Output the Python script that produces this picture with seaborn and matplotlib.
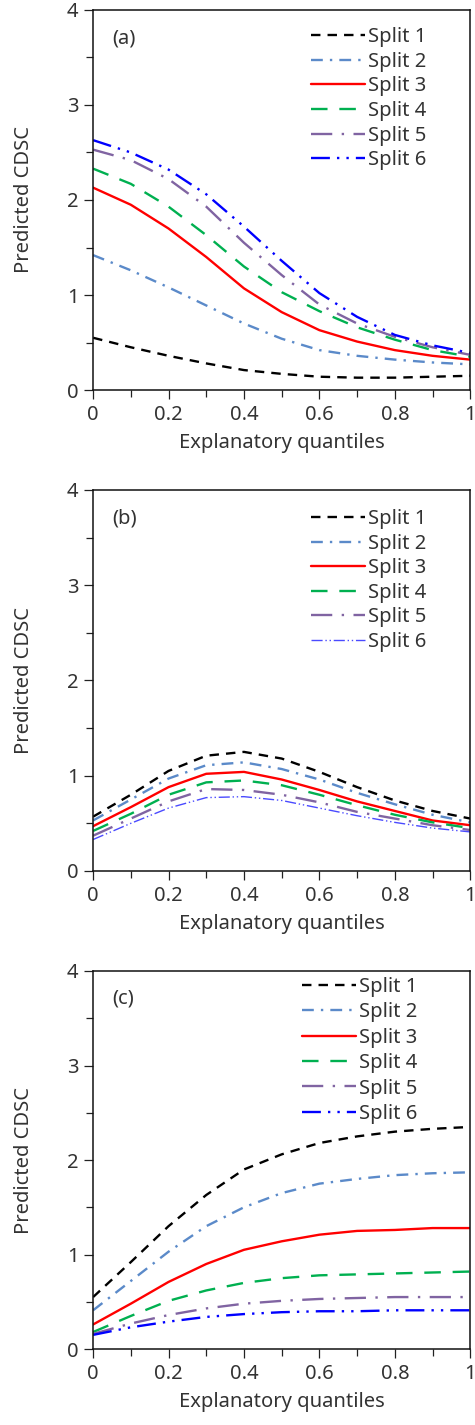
import numpy as np
import pandas as pd
import matplotlib
matplotlib.use("Agg")
import matplotlib.pyplot as plt
from matplotlib.ticker import MultipleLocator, FuncFormatter
import seaborn as sns

sns.set_theme(style="ticks")
plt.rcParams['font.family'] = ['Noto Sans', 'DejaVu Sans']

x_q = [0.0, 0.1, 0.2, 0.3, 0.4, 0.5, 0.6, 0.7, 0.8, 0.9, 1.0]
split_names = ["Split 1", "Split 2", "Split 3", "Split 4", "Split 5", "Split 6"]
panel_labels = ["(a)", "(b)", "(c)"]

a_s1 = [0.55, 0.45, 0.36, 0.28, 0.21, 0.17, 0.14, 0.13, 0.13, 0.14, 0.15]
a_s2 = [1.42, 1.26, 1.08, 0.89, 0.70, 0.54, 0.42, 0.36, 0.32, 0.29, 0.27]
a_s3 = [2.13, 1.95, 1.70, 1.40, 1.07, 0.82, 0.63, 0.51, 0.42, 0.36, 0.32]
a_s4 = [2.33, 2.17, 1.93, 1.63, 1.30, 1.03, 0.83, 0.66, 0.53, 0.42, 0.35]
a_s5 = [2.53, 2.42, 2.22, 1.93, 1.55, 1.21, 0.90, 0.70, 0.56, 0.45, 0.37]
a_s6 = [2.63, 2.50, 2.32, 2.06, 1.72, 1.36, 1.02, 0.77, 0.58, 0.47, 0.39]

b_s1 = [0.57, 0.80, 1.05, 1.21, 1.25, 1.18, 1.04, 0.88, 0.74, 0.63, 0.55]
b_s2 = [0.53, 0.75, 0.97, 1.11, 1.14, 1.07, 0.96, 0.82, 0.70, 0.59, 0.51]
b_s3 = [0.47, 0.67, 0.88, 1.02, 1.04, 0.96, 0.85, 0.73, 0.63, 0.53, 0.48]
b_s4 = [0.42, 0.60, 0.80, 0.93, 0.95, 0.90, 0.80, 0.69, 0.59, 0.51, 0.45]
b_s5 = [0.37, 0.55, 0.73, 0.86, 0.85, 0.80, 0.72, 0.62, 0.55, 0.48, 0.43]
b_s6 = [0.33, 0.50, 0.66, 0.77, 0.78, 0.74, 0.66, 0.58, 0.51, 0.45, 0.41]

c_s1 = [0.55, 0.92, 1.30, 1.63, 1.90, 2.06, 2.18, 2.25, 2.30, 2.33, 2.35]
c_s2 = [0.41, 0.72, 1.03, 1.30, 1.50, 1.65, 1.75, 1.80, 1.84, 1.86, 1.87]
c_s3 = [0.26, 0.48, 0.71, 0.90, 1.05, 1.14, 1.21, 1.25, 1.26, 1.28, 1.28]
c_s4 = [0.18, 0.35, 0.51, 0.62, 0.70, 0.75, 0.78, 0.79, 0.80, 0.81, 0.82]
c_s5 = [0.16, 0.27, 0.36, 0.43, 0.48, 0.51, 0.53, 0.54, 0.55, 0.55, 0.55]
c_s6 = [0.15, 0.23, 0.29, 0.34, 0.37, 0.39, 0.40, 0.40, 0.41, 0.41, 0.41]

panels = [
    [a_s1, a_s2, a_s3, a_s4, a_s5, a_s6],
    [b_s1, b_s2, b_s3, b_s4, b_s5, b_s6],
    [c_s1, c_s2, c_s3, c_s4, c_s5, c_s6],
]

colors = ["#000000", "#5B8AC9", "#FF0000", "#00B050", "#8064A2", "#0000FF"]
styles = [(0, (4, 3)), (0, (5, 3, 1, 3)), "-", (0, (7, 5)),
          (0, (9, 4, 1, 4)), (0, (8, 3, 1, 3, 1, 3))]
widths = [1.7, 1.7, 1.7, 1.7, 1.7, 1.7]

fig = plt.figure(figsize=(4.75, 14.25), dpi=100)
ax_rects = [
    [0.196, 0.7263, 0.794, 0.2667],
    [0.196, 0.3888, 0.794, 0.2674],
    [0.196, 0.0533, 0.794, 0.2653],
]
leg_anchor = [(0.93, 1.0), (0.93, 0.995), (0.905, 1.03)]
leg_spacing = [0.23, 0.23, 0.27]

fmt = FuncFormatter(lambda v, p: ("%g" % round(v, 2)))
TXT = "#333333"
FS = 14.5

for k, (rect, series) in enumerate(zip(ax_rects, panels)):
    ax = fig.add_axes(rect)
    for i, (name, ys) in enumerate(zip(split_names, series)):
        col = colors[i]
        lw = widths[i]
        ls = styles[i]
        if k == 1 and i == 5:
            col = "#4A4AFF"
            lw = 1.0
            ls = (0, (8, 2, 1, 2, 1, 2))
        df = pd.DataFrame({"x": x_q, "y": ys})
        sns.lineplot(data=df, x="x", y="y", ax=ax, color=col, lw=lw,
                     linestyle=ls, label=name)
    ax.set_xlim(0, 1)
    ax.set_ylim(0, 4)
    ax.xaxis.set_major_locator(MultipleLocator(0.2))
    ax.xaxis.set_minor_locator(MultipleLocator(0.1))
    ax.yaxis.set_major_locator(MultipleLocator(1))
    ax.yaxis.set_minor_locator(MultipleLocator(0.5))
    ax.xaxis.set_major_formatter(fmt)
    ax.yaxis.set_major_formatter(fmt)
    ax.tick_params(which="major", direction="out", length=6.5, width=0.9,
                   labelsize=FS, colors="#222222", labelcolor=TXT, pad=4)
    ax.tick_params(which="minor", direction="out", length=5, width=0.9,
                   colors="#222222")
    for sp in ax.spines.values():
        sp.set_visible(True)
        sp.set_linewidth(1.1)
        sp.set_color("#111111")
    ax.set_xlabel("Explanatory quantiles", fontsize=FS, color=TXT,
                  labelpad=6)
    ax.set_ylabel("Predicted CDSC", fontsize=FS, color=TXT,
                  labelpad=24)
    ax.text(0.05, 0.926, panel_labels[k], transform=ax.transAxes,
            fontsize=FS, color=TXT, va="center", ha="left")
    leg = ax.legend(loc="upper right", bbox_to_anchor=leg_anchor[k],
                    frameon=False, fontsize=FS, handlelength=2.7,
                    handletextpad=0.15, labelspacing=leg_spacing[k],
                    borderaxespad=0.45)
    for t in leg.get_texts():
        t.set_color(TXT)

fig.savefig("out.png", dpi=100)
